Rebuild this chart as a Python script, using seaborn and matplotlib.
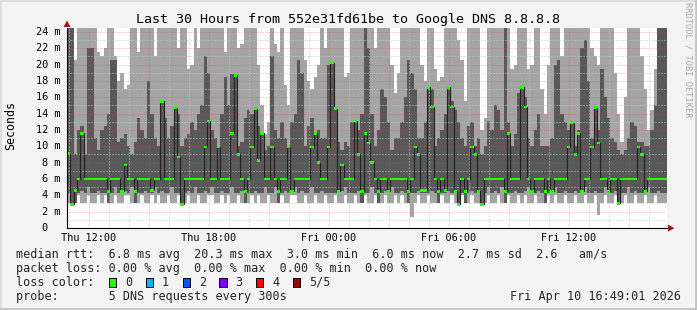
import numpy as np
import pandas as pd
import matplotlib
matplotlib.use("Agg")
import matplotlib.pyplot as plt
import seaborn as sns
from matplotlib.patches import Rectangle, Polygon
from matplotlib.lines import Line2D
from matplotlib.ticker import MultipleLocator

# ---------------- data ----------------
title = "Last 30 Hours from 552e31fd61be to Google DNS 8.8.8.8"
start_hour = 10.9        # Thu 10:54 (hours since Thu 00:00)
span_hours = 30
step_minutes = 10

# five sorted pings per step (ms)
ping_min = [
    3.0, 2.9, 3.0, 4.0, 3.0, 3.0, 4.0, 3.0, 3.0, 4.0,
    3.0, 4.0, 3.0, 3.0, 4.0, 3.0, 3.0, 4.0, 4.0, 3.0,
    3.0, 3.0, 4.0, 3.0, 3.0, 4.0, 3.0, 4.0, 3.0, 3.0,
    4.0, 3.0, 3.0, 4.0, 2.9, 3.0, 4.0, 3.0, 3.0, 4.0,
    3.0, 3.0, 4.0, 4.0, 3.0, 3.0, 4.0, 3.0, 4.0, 3.0,
    3.0, 4.0, 3.0, 3.0, 3.0, 4.0, 3.0, 4.0, 3.0, 3.0,
    4.0, 3.0, 3.0, 3.0, 4.0, 3.0, 3.0, 4.0, 4.0, 3.0,
    3.0, 4.0, 3.0, 3.0, 4.0, 3.0, 3.0, 4.0, 3.0, 3.0,
    4.0, 3.0, 3.0, 4.0, 3.0, 3.0, 4.0, 3.0, 3.0, 4.0,
    3.0, 3.0, 4.0, 3.0, 3.0, 4.0, 3.0, 3.0, 4.0, 3.0,
    4.0, 3.0, 3.0, 1.3, 3.0, 4.0, 3.0, 3.0, 4.0, 3.0,
    3.0, 3.0, 4.0, 3.0, 3.0, 4.0, 3.0, 2.9, 4.0, 3.0,
    3.0, 4.0, 3.0, 3.0, 2.9, 3.0, 4.0, 3.0, 3.0, 4.0,
    3.0, 3.0, 4.0, 3.0, 3.0, 4.0, 3.0, 4.0, 3.0, 3.0,
    4.0, 3.0, 3.0, 3.0, 4.0, 3.0, 4.0, 3.0, 3.0, 4.0,
    3.0, 3.0, 4.0, 3.0, 3.0, 4.0, 3.0, 3.0, 4.0, 1.6,
    3.0, 4.0, 3.0, 3.0, 4.0, 3.0, 3.0, 4.0, 3.0, 3.0,
    4.0, 3.0, 3.0, 4.0, 3.0, 3.0, 4.0, 3.0, 3.0, 3.0,
]
ping_low = [
    4.3, 2.9, 3.0, 4.3, 4.5, 4.3, 5.0, 4.3, 4.3, 4.5,
    4.3, 4.3, 3.0, 4.3, 5.0, 4.3, 4.3, 4.5, 4.3, 5.0,
    3.0, 4.3, 4.3, 4.5, 4.3, 4.3, 5.0, 4.3, 4.5, 4.3,
    4.3, 5.0, 4.3, 4.3, 2.9, 4.3, 4.5, 4.3, 5.0, 4.3,
    4.3, 4.5, 4.3, 5.0, 4.3, 4.3, 4.5, 4.3, 4.3, 5.0,
    4.3, 4.3, 4.5, 3.0, 4.3, 4.3, 4.5, 4.3, 4.3, 5.0,
    4.3, 4.3, 5.0, 3.0, 4.3, 4.5, 4.3, 4.3, 5.0, 4.3,
    4.5, 4.3, 4.3, 5.0, 4.3, 4.3, 4.5, 4.3, 4.3, 4.3,
    4.3, 4.3, 4.5, 5.0, 4.3, 4.3, 4.3, 4.5, 3.0, 4.3,
    4.3, 5.0, 4.3, 3.0, 4.3, 4.5, 4.3, 5.0, 4.3, 4.3,
    4.5, 4.3, 3.0, 4.3, 4.3, 4.5, 4.3, 4.3, 4.3, 4.5,
    4.3, 3.0, 4.3, 4.3, 4.5, 4.3, 4.3, 2.9, 4.3, 3.0,
    4.3, 4.5, 4.3, 4.3, 2.9, 4.3, 5.0, 4.3, 4.5, 4.3,
    5.0, 3.0, 4.3, 4.3, 4.5, 4.3, 4.3, 4.5, 5.0, 4.3,
    4.3, 4.5, 4.3, 3.0, 4.3, 4.3, 5.0, 4.3, 4.3, 4.5,
    4.3, 4.3, 4.5, 4.3, 4.3, 5.0, 4.3, 4.3, 4.5, 4.3,
    4.3, 5.0, 4.3, 4.3, 4.5, 3.0, 4.3, 4.3, 5.0, 4.3,
    4.5, 4.3, 4.3, 4.3, 5.0, 4.3, 4.3, 4.5, 4.3, 4.3,
]
median_rtt = [
    9.1, 2.9, 4.6, 6.0, 11.6, 6.0, 6.0, 6.0, 6.0, 6.0,
    6.0, 6.0, 4.5, 6.0, 6.0, 6.0, 4.5, 7.7, 6.0, 6.0,
    4.5, 6.0, 6.0, 6.0, 6.0, 4.6, 6.0, 6.0, 15.5, 6.0,
    6.0, 6.0, 14.7, 8.7, 2.9, 6.0, 6.0, 6.0, 6.0, 6.0,
    6.0, 9.9, 13.1, 6.0, 6.0, 9.9, 6.0, 6.0, 6.0, 11.6,
    18.7, 9.0, 6.0, 4.5, 6.0, 9.9, 14.6, 8.3, 11.6, 6.0,
    6.0, 9.9, 6.0, 4.5, 6.0, 6.0, 9.9, 4.5, 6.0, 6.0,
    6.0, 6.0, 6.0, 9.9, 11.6, 8.0, 6.0, 6.0, 9.9, 20.2,
    14.6, 4.5, 7.7, 6.0, 6.0, 6.0, 13.1, 9.0, 4.5, 11.6,
    10.4, 8.0, 6.0, 4.5, 6.0, 6.0, 4.5, 6.0, 6.0, 6.0,
    6.0, 6.0, 4.5, 6.0, 9.9, 9.0, 4.6, 4.6, 17.2, 14.8,
    6.0, 4.5, 6.0, 4.6, 17.2, 14.8, 4.5, 2.9, 6.0, 4.5,
    6.0, 9.9, 9.0, 4.5, 2.9, 6.0, 6.0, 6.0, 6.0, 6.0,
    6.0, 4.5, 11.6, 6.0, 6.0, 6.0, 17.2, 14.8, 6.0, 4.5,
    6.0, 6.0, 6.0, 4.5, 6.0, 4.5, 6.0, 6.0, 6.0, 6.0,
    9.9, 12.9, 9.0, 11.6, 4.5, 6.0, 6.0, 9.9, 14.7, 10.4,
    6.0, 6.0, 4.5, 6.0, 6.0, 3.0, 6.0, 6.0, 6.0, 6.0,
    6.0, 9.9, 9.0, 4.5, 6.0, 6.0, 6.0, 6.0, 6.0, 6.0,
]
ping_high = [
    24.5, 24.5, 9.0, 12.0, 12.5, 9.0, 22.0, 22.0, 11.0, 9.5,
    12.0, 12.5, 14.0, 20.5, 20.5, 10.5, 11.0, 11.5, 10.0, 9.0,
    10.5, 13.5, 12.0, 11.0, 18.0, 14.0, 11.0, 10.0, 15.5, 13.5,
    11.0, 12.5, 14.7, 14.0, 10.0, 11.0, 11.5, 13.0, 12.0, 14.0,
    15.0, 21.0, 19.0, 12.0, 11.0, 10.0, 14.0, 18.5, 15.0, 18.8,
    18.8, 10.0, 10.5, 13.5, 14.5, 14.0, 14.6, 12.5, 11.6, 9.5,
    10.0, 21.0, 12.0, 11.0, 13.0, 11.0, 10.0, 13.0, 14.0, 20.5,
    19.0, 10.0, 12.5, 13.5, 11.6, 12.0, 11.0, 11.0, 20.0, 20.2,
    14.6, 10.5, 9.5, 10.5, 10.0, 13.0, 13.1, 12.0, 14.0, 24.5,
    22.0, 14.0, 10.0, 12.0, 17.0, 16.0, 13.0, 9.5, 11.0, 11.0,
    13.0, 16.0, 20.5, 19.0, 17.0, 11.0, 11.0, 13.0, 17.2, 17.0,
    10.0, 11.0, 12.0, 14.0, 17.2, 15.5, 14.5, 13.0, 11.0, 10.0,
    12.5, 13.0, 10.0, 11.0, 9.0, 10.0, 13.1, 12.0, 15.0, 14.5,
    12.0, 24.5, 13.0, 10.0, 11.5, 16.5, 17.2, 16.0, 11.0, 10.0,
    12.0, 14.0, 10.0, 10.0, 10.0, 11.0, 20.0, 20.5, 14.0, 13.0,
    12.0, 13.0, 10.0, 12.0, 22.0, 23.0, 18.0, 11.0, 14.7, 12.0,
    19.5, 16.0, 13.5, 11.0, 10.5, 9.5, 9.0, 9.5, 11.0, 13.0,
    12.5, 10.5, 10.5, 10.0, 10.0, 12.0, 15.0, 24.5, 24.5, 24.5,
]
ping_max = [
    24.5, 24.5, 20.5, 24.5, 24.5, 24.5, 24.5, 24.5, 24.5, 21.5,
    21.0, 22.0, 24.5, 24.5, 21.0, 18.0, 19.0, 17.0, 17.5, 24.5,
    24.5, 21.5, 24.5, 24.5, 24.5, 24.5, 21.0, 24.5, 24.5, 24.5,
    24.5, 24.5, 24.5, 22.0, 24.5, 24.5, 19.5, 20.0, 24.5, 22.0,
    24.5, 24.5, 24.5, 24.5, 24.5, 24.5, 24.5, 21.5, 24.5, 24.5,
    24.5, 22.0, 22.5, 24.5, 24.5, 24.5, 24.5, 20.0, 15.0, 11.5,
    13.0, 24.5, 22.5, 21.5, 24.5, 17.5, 15.0, 24.5, 24.5, 24.5,
    24.5, 20.5, 18.0, 17.0, 18.5, 20.0, 24.5, 22.0, 24.5, 24.5,
    24.5, 24.5, 24.5, 18.5, 19.0, 24.5, 24.5, 24.5, 24.5, 24.5,
    24.5, 24.5, 22.0, 24.5, 24.5, 24.5, 24.5, 20.0, 16.5, 19.0,
    24.5, 24.5, 24.5, 24.5, 24.5, 24.5, 20.0, 18.0, 24.5, 24.5,
    19.5, 18.0, 18.5, 24.5, 24.5, 24.5, 24.5, 23.0, 20.5, 15.5,
    24.5, 24.5, 24.5, 24.5, 12.0, 13.5, 24.5, 24.5, 24.5, 24.5,
    24.5, 24.5, 24.5, 19.5, 20.0, 24.5, 24.5, 24.5, 19.5, 20.0,
    24.5, 24.5, 17.0, 14.0, 20.0, 24.5, 24.5, 24.5, 21.0, 24.5,
    24.5, 24.5, 24.5, 24.5, 24.5, 24.5, 24.5, 22.0, 21.0, 20.0,
    24.5, 24.5, 24.5, 24.5, 19.0, 14.0, 10.5, 16.0, 24.5, 24.5,
    24.5, 24.5, 21.0, 17.0, 12.0, 14.5, 19.5, 24.5, 24.5, 24.5,
]

y_ticks = [0, 2, 4, 6, 8, 10, 12, 14, 16, 18, 20, 22, 24]
y_tick_labels = ["0", "2 m", "4 m", "6 m", "8 m", "10 m", "12 m", "14 m",
                 "16 m", "18 m", "20 m", "22 m", "24 m"]
x_ticks = [12, 18, 24, 30, 36]
x_tick_labels = ["Thu 12:00", "Thu 18:00", "Fri 00:00", "Fri 06:00", "Fri 12:00"]

legend_line1 = "median rtt:  6.8 ms avg  20.3 ms max  3.0 ms min  6.0 ms now  2.7 ms sd  2.6   am/s"
legend_line2 = "packet loss: 0.00 % avg  0.00 % max  0.00 % min  0.00 % now"
legend_line3 = "loss color:"
legend_line4 = "probe:       5 DNS requests every 300s"
loss_labels = ["0", "1", "2", "3", "4", "5/5"]
loss_colors = ["#26ff00", "#00b8ff", "#0059ff", "#7e00ff", "#ff0000", "#a10000"]
date_text = "Fri Apr 10 16:49:01 2026"
watermark = "RRDTOOL / TOBI OETIKER"

# ---------------- drawing ----------------
sns.set_style("white")
plt.rcParams["font.family"] = ["DejaVu Sans Mono"]

W, H = 697, 310
fig = plt.figure(figsize=(W / 100, H / 100), dpi=100)
fig.patch.set_facecolor("#f3f3f3")

L, B, R, T = 67, 228, 667, 27.8
ax = fig.add_axes([L / W, 1 - B / H, (R - L) / W, (B - T) / H])
ax.set_facecolor("white")

n = len(median_rtt)
t = start_hour + np.arange(n + 1) * step_minutes / 60.0


def ext(a):
    a = np.asarray(a, dtype=float)
    return np.append(a, a[-1])


ax.fill_between(t, ext(ping_min), ext(ping_max), step="post",
                color="#a4a4a4", lw=0, zorder=1)
ax.fill_between(t, ext(ping_low), ext(ping_high), step="post",
                color="#585858", lw=0, zorder=1.1)

df = pd.DataFrame({"t": t, "median": ext(median_rtt)})
sns.lineplot(data=df, x="t", y="median", ax=ax, drawstyle="steps-post",
             color="#202020", lw=0.8, estimator=None, errorbar=None,
             legend=False, zorder=3)
med = ext(median_rtt)
ax.fill_between(t, med - 0.17, med + 0.17, step="post", color="#26ff00",
                lw=0, zorder=4)

ax.set_xlim(start_hour, start_hour + span_hours)
ax.set_ylim(0, 24.5)
ax.set_xlabel("")
ax.set_ylabel("")

ax.xaxis.set_major_locator(MultipleLocator(3))
ax.xaxis.set_minor_locator(MultipleLocator(1))
ax.yaxis.set_major_locator(MultipleLocator(2))
ax.yaxis.set_minor_locator(MultipleLocator(1))
ax.tick_params(labelbottom=False, labelleft=False)
ax.tick_params(which="major", length=2.5, width=0.7, color="black", direction="out")
ax.tick_params(which="minor", length=0)
ax.set_axisbelow(False)
ax.grid(True, which="major", color="#ff4040", alpha=0.5, ls=(0, (1, 2)), lw=0.72)
ax.grid(True, which="minor", color="#c4c4c4", ls=(0, (1, 2)), lw=0.72)

for s in ["top", "right"]:
    ax.spines[s].set_visible(False)
for s in ["left", "bottom"]:
    ax.spines[s].set_color("black")
    ax.spines[s].set_linewidth(0.8)
    ax.spines[s].set_zorder(5)

tick_font = 7.4
char_px = tick_font / 72 * 100 * 0.602
for v, lab in zip(y_ticks, y_tick_labels):
    if v == 0:
        xoff = -(7 + 2 * char_px) / (R - L)
    else:
        xoff = -7 / (R - L)
    ax.text(xoff, v, lab, transform=ax.get_yaxis_transform(), ha="right",
            va="center", fontsize=tick_font, color="black", clip_on=False)
for v, lab in zip(x_ticks, x_tick_labels):
    ax.text(v, -(237.6 - B) / (B - T), lab, transform=ax.get_xaxis_transform(),
            ha="center", va="center", fontsize=tick_font, color="black", clip_on=False)


def fx(x):
    return x / W


def fy(y):
    return 1 - y / H


# arrows
fig.add_artist(Polygon([(fx(63.5), fy(27)), (fx(70.5), fy(27)), (fx(67), fy(20.5))],
                       closed=True, transform=fig.transFigure, color="#9b1a1a", lw=0))
fig.add_artist(Polygon([(fx(668), fy(224.6)), (fx(668), fy(231.6)), (fx(674.5), fy(228.1))],
                       closed=True, transform=fig.transFigure, color="#9b1a1a", lw=0))

# title & labels
fig.text(fx(348.5), fy(19), title, ha="center", va="center", fontsize=9.6, color="black")
fig.text(fx(10.5), fy(126), "Seconds", ha="center", va="center", rotation=90,
         fontsize=8.4, color="black")
fig.text(fx(688), fy(60), watermark, ha="center", va="center", rotation=270,
         fontsize=6.2, color="#a8a8a8")

leg_font = 8.5
fig.text(fx(16.5), fy(254.3), legend_line1, ha="left", va="center", fontsize=leg_font)
fig.text(fx(16.5), fy(268.3), legend_line2, ha="left", va="center", fontsize=leg_font)
fig.text(fx(16.5), fy(282.3), legend_line3, ha="left", va="center", fontsize=leg_font)
fig.text(fx(16.5), fy(296.2), legend_line4, ha="left", va="center", fontsize=leg_font)
fig.text(fx(680.5), fy(296.2), date_text, ha="right", va="center", fontsize=leg_font)

box_x = [109, 146, 182.7, 219.3, 256, 292.7]
for bx, lab, col in zip(box_x, loss_labels, loss_colors):
    fig.add_artist(Rectangle((fx(bx), fy(286.5)), 7.3 / W, 8.6 / H,
                             transform=fig.transFigure, facecolor=col,
                             edgecolor="black", lw=0.7))
    fig.text(fx(bx + 16), fy(282.3), lab, ha="left", va="center", fontsize=leg_font)

# frame
fig.add_artist(Line2D([0, 1], [1 - 1 / H, 1 - 1 / H], transform=fig.transFigure,
                      color="#dcdcdc", lw=1.5))
fig.add_artist(Line2D([1 / W, 1 / W], [0, 1], transform=fig.transFigure,
                      color="#dcdcdc", lw=1.5))
fig.add_artist(Line2D([0, 1], [1.2 / H, 1.2 / H], transform=fig.transFigure,
                      color="#c4c4c4", lw=2))
fig.add_artist(Line2D([1 - 1.2 / W, 1 - 1.2 / W], [0, 1], transform=fig.transFigure,
                      color="#c4c4c4", lw=2))

fig.savefig("out.png", dpi=100, facecolor=fig.get_facecolor())
